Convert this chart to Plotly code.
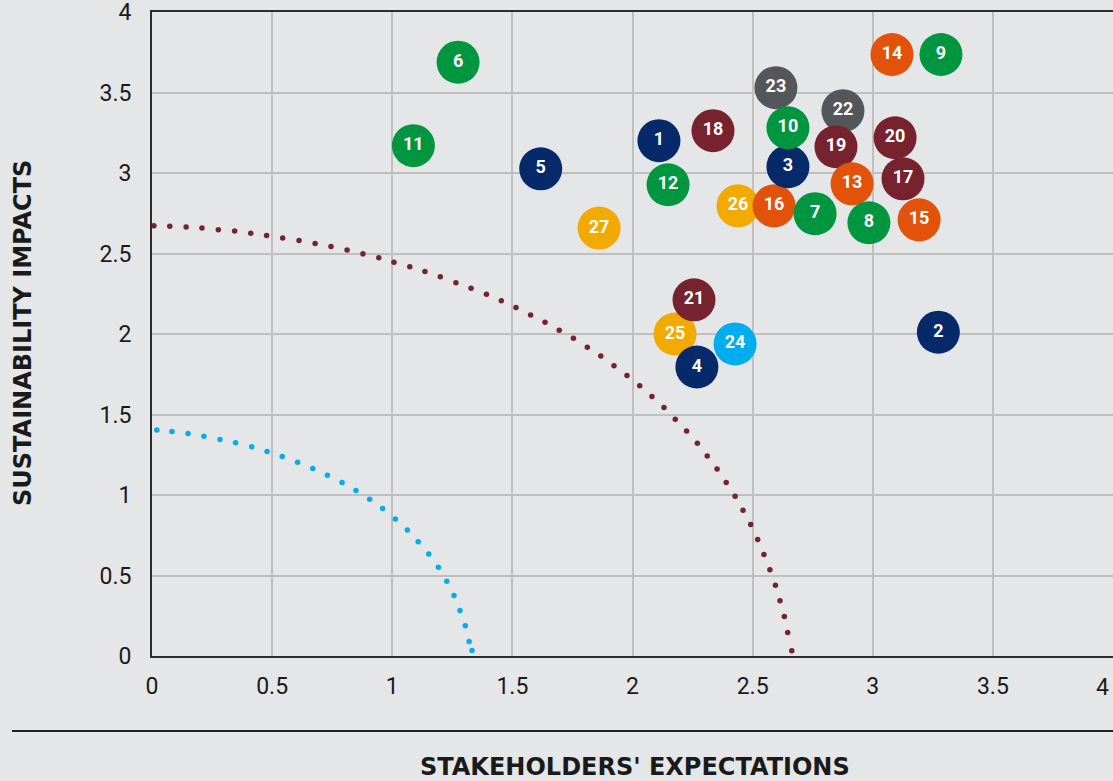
import plotly.graph_objects as go

# ---- Data ----
issue_ids = [25, 21, 4, 24, 26, 16, 7, 23, 3, 10, 22, 19, 13, 8, 20, 17, 15,
             1, 2, 5, 6, 9, 11, 12, 14, 18, 27]
stakeholder_expectations = [2.177, 2.256, 2.268, 2.427, 2.439, 2.589, 2.760, 2.597, 2.647, 2.647,
                            2.876, 2.847, 2.914, 2.984, 3.093, 3.126, 3.193,
                            2.110, 3.273, 1.618, 1.274, 3.284, 1.088, 2.148, 3.080, 2.335, 1.861]
sustainability_impacts = [2.000, 2.212, 1.795, 1.938, 2.796, 2.796, 2.747, 3.530, 3.039, 3.281,
                          3.387, 3.163, 2.933, 2.691, 3.219, 2.964, 2.709,
                          3.201, 2.011, 3.026, 3.688, 3.736, 3.170, 2.927, 3.736, 3.263, 2.658]
issue_groups = ["amber", "maroon", "navy", "cyan", "amber", "orange", "green", "gray", "navy", "green",
                "gray", "maroon", "orange", "green", "maroon", "maroon", "orange",
                "navy", "navy", "navy", "green", "green", "green", "green", "orange", "maroon", "amber"]

group_colors = {
    "navy": "#06296a",
    "green": "#00953f",
    "maroon": "#77232f",
    "orange": "#e2520a",
    "gray": "#53575a",
    "amber": "#f2a900",
    "cyan": "#00aeef",
}

# outer (maroon) dotted threshold curve, dots
outer_x = [0.008, 0.074, 0.142, 0.208, 0.276, 0.344, 0.411, 0.477, 0.544, 0.612, 0.679, 0.745,
           0.812, 0.878, 0.944, 1.007, 1.073, 1.136, 1.200, 1.265, 1.328, 1.392, 1.454, 1.515,
           1.576, 1.636, 1.695, 1.754, 1.812, 1.868, 1.923, 1.977, 2.030, 2.081, 2.131, 2.178,
           2.225, 2.270, 2.311, 2.352, 2.390, 2.427, 2.460, 2.492, 2.521, 2.547, 2.572, 2.595,
           2.614, 2.632, 2.646, 2.663]
outer_y = [2.672, 2.670, 2.664, 2.658, 2.647, 2.639, 2.626, 2.612, 2.597, 2.580, 2.562, 2.543,
           2.521, 2.498, 2.473, 2.445, 2.417, 2.388, 2.355, 2.319, 2.284, 2.247, 2.207, 2.164,
           2.118, 2.073, 2.023, 1.973, 1.917, 1.863, 1.803, 1.743, 1.678, 1.612, 1.544, 1.471,
           1.398, 1.322, 1.243, 1.162, 1.077, 0.992, 0.905, 0.816, 0.723, 0.631, 0.536, 0.440,
           0.343, 0.246, 0.146, 0.032]

# inner (cyan) dotted threshold curve
inner_x = [0.020, 0.083, 0.150, 0.216, 0.283, 0.348, 0.415, 0.479, 0.542, 0.606, 0.669, 0.730,
           0.791, 0.849, 0.906, 0.960, 1.013, 1.063, 1.108, 1.152, 1.192, 1.227, 1.257, 1.282,
           1.304, 1.320, 1.332]
inner_y = [1.403, 1.395, 1.382, 1.365, 1.345, 1.324, 1.299, 1.270, 1.239, 1.204, 1.165, 1.123,
           1.077, 1.028, 0.974, 0.916, 0.851, 0.783, 0.710, 0.633, 0.552, 0.465, 0.376, 0.283,
           0.188, 0.090, 0.034]

tick_vals = [0, 0.5, 1, 1.5, 2, 2.5, 3, 3.5, 4]
tick_text = ["0", "0.5", "1", "1.5", "2", "2.5", "3", "3.5", "4"]

x_title = "STAKEHOLDERS' EXPECTATIONS"
y_title = "SUSTAINABILITY IMPACTS"

# ---- Figure ----
BG = "#e5e6e7"
GRID = "#bfbfbf"
AXIS = "#2b2b2b"
TICK_FONT = dict(family="Roboto, 'Liberation Sans', sans-serif", size=23, color="#1a1a1a")

fig = go.Figure()

fig.add_trace(go.Scatter(
    x=outer_x, y=outer_y, mode="markers",
    marker=dict(size=5.5, color=group_colors["maroon"]),
    hoverinfo="skip", showlegend=False,
))
fig.add_trace(go.Scatter(
    x=inner_x, y=inner_y, mode="markers",
    marker=dict(size=5.5, color=group_colors["cyan"]),
    hoverinfo="skip", showlegend=False,
))

fig.add_trace(go.Scatter(
    x=stakeholder_expectations, y=sustainability_impacts,
    mode="markers+text",
    text=[str(i) for i in issue_ids],
    textposition="middle center",
    textfont=dict(family="Roboto, 'DejaVu Sans', sans-serif", size=18, color="white", weight="bold"),
    marker=dict(size=43, color=[group_colors[g] for g in issue_groups], line=dict(width=0)),
    showlegend=False,
    cliponaxis=False,
))

# last x tick label sits at the window edge: draw it right-aligned so it stays visible
x_ticktext_axis = tick_text[:-1] + [""]

fig.update_xaxes(
    range=[0, 4], tickvals=tick_vals, ticktext=x_ticktext_axis,
    showgrid=True, gridcolor=GRID, gridwidth=1.5,
    showline=True, linecolor=AXIS, linewidth=2, mirror=True,
    zeroline=False, ticks="", ticklabelstandoff=8,
    ticklabeloverflow="allow", automargin=False,
    tickfont=TICK_FONT,
)
fig.update_yaxes(
    range=[0, 4], tickvals=tick_vals, ticktext=tick_text,
    showgrid=True, gridcolor=GRID, gridwidth=1.5,
    showline=True, linecolor=AXIS, linewidth=2,
    zeroline=False, ticks="", ticklabelstandoff=14,
    ticklabeloverflow="allow", automargin=False,
    tickfont=TICK_FONT,
)

fig.update_layout(
    width=1113, height=781,
    margin=dict(l=152, r=0, t=12, b=125),
    paper_bgcolor=BG, plot_bgcolor=BG,
    showlegend=False,
    annotations=[
        dict(text=tick_text[-1], xref="x", yref="paper", x=tick_vals[-1], y=-0.0495,
             xanchor="right", yanchor="middle", xshift=-2, showarrow=False,
             font=TICK_FONT),
        dict(text=x_title, xref="paper", yref="paper", x=0.5026, y=-0.172,
             xanchor="center", yanchor="middle", showarrow=False,
             font=dict(family="'DejaVu Sans', sans-serif", size=24, color="#1a1a1a", weight="bold")),
        dict(text=y_title, xref="paper", yref="paper", x=-0.1342, y=0.5016,
             xanchor="center", yanchor="middle", showarrow=False, textangle=-90,
             font=dict(family="'DejaVu Sans', sans-serif", size=24, color="#1a1a1a", weight="bold")),
    ],
    shapes=[
        dict(type="line", xref="paper", yref="paper", x0=-0.1457, x1=1.0, y0=-0.1165, y1=-0.1165,
             line=dict(color="#222222", width=2)),
    ],
)

fig.write_html("out.html")
